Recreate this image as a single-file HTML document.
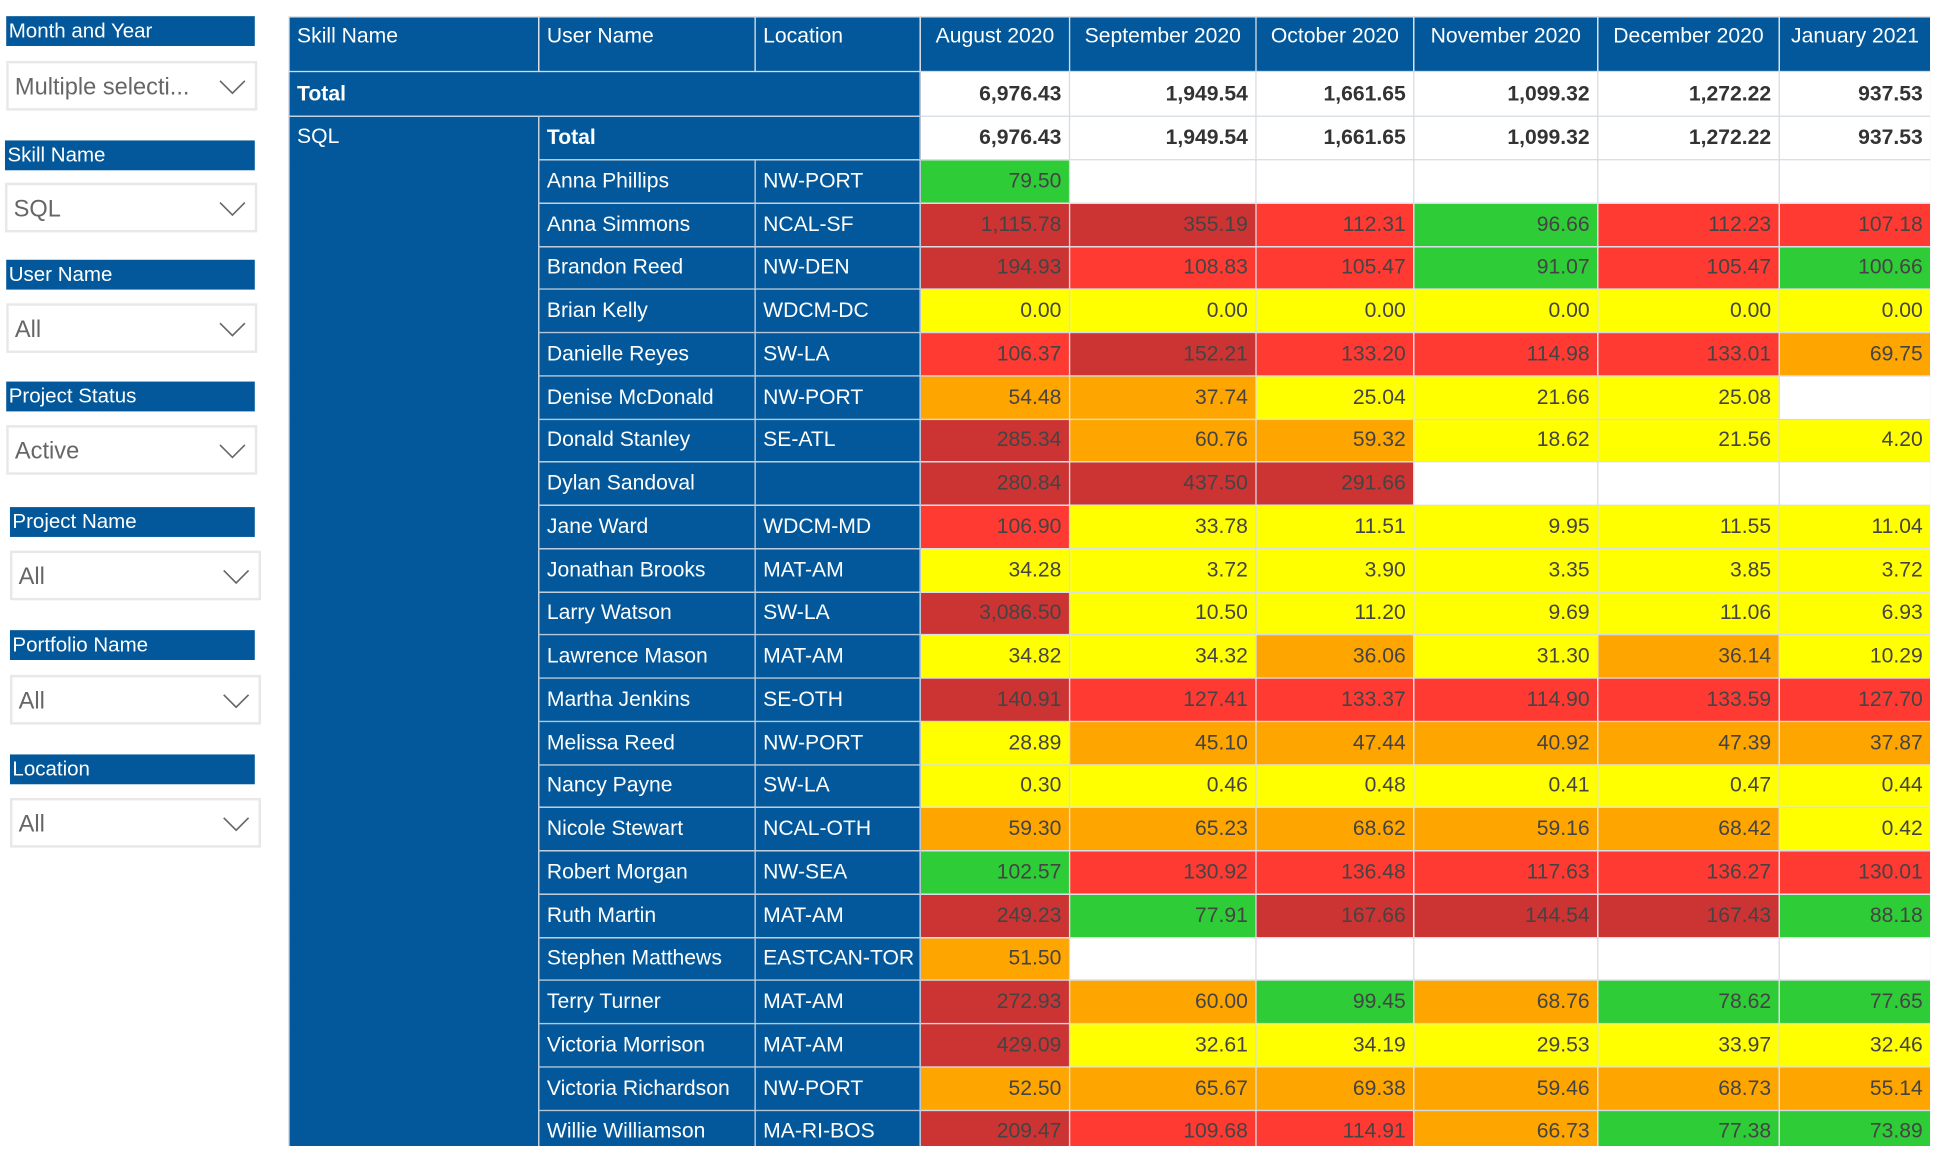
<!DOCTYPE html>
<html><head><meta charset="utf-8"><style>
*{margin:0;padding:0;box-sizing:border-box}
html,body{width:1939px;height:1161px;overflow:hidden;background:#fff}
#w{position:absolute;left:0;top:0;width:1560px;height:934px;transform:scale(1.2429);transform-origin:0 0;font-family:"Liberation Sans",sans-serif}
.sh{position:absolute;background:#02589a;color:#fff;font-size:16.5px;line-height:24px;padding-left:2px;height:24px;white-space:nowrap;overflow:hidden}
.dd{position:absolute;background:#fff;border:2px solid #e8e8e8;color:#666;font-size:19px;line-height:40px;padding-left:5px;height:40px}
.dd svg{position:absolute;right:7px;top:13px}
#t{position:absolute;left:232px;top:13px;width:1321px;height:909px;overflow:hidden}
table{border-collapse:collapse;table-layout:fixed;width:1321px;font-size:17px}
td{border:1px solid #d6dbe2;white-space:nowrap;overflow:hidden;padding:0 6px;color:#444;text-align:right}
td.b{background:#02589a;color:#fff;text-align:left;border-color:#b9c6d6}
tr.h td{height:44px;background:#02589a;color:#fff;text-align:center;padding:5px 3px 0;vertical-align:top}
tr.h td.l{text-align:left;padding-left:6px}
tr.t1 td{height:36px}
tr.t2 td{height:35px}
tr.t1 td,tr.t2 td{font-weight:bold;color:#333}
tr.r td{height:34.75px}
td.b{vertical-align:middle}
td.sql{vertical-align:top;padding-top:6px}
.D{background:#cc3333}.R{background:#ff3a33}.G{background:#2ecc37}.Y{background:#ffff00}.O{background:#ffa500}
</style></head><body><div id="w">
<div class="sh" style="left:5px;top:13px;width:200px">Month and Year</div>
<div class="dd" style="left:5px;top:49px;width:202px">Multiple selecti...<svg width="22" height="12"><polyline points="1,1 11,11 21,1" fill="none" stroke="#666" stroke-width="1.3"/></svg></div>
<div class="sh" style="left:4px;top:113px;width:201px">Skill Name</div>
<div class="dd" style="left:4px;top:147px;width:203px">SQL<svg width="22" height="12"><polyline points="1,1 11,11 21,1" fill="none" stroke="#666" stroke-width="1.3"/></svg></div>
<div class="sh" style="left:5px;top:209px;width:200px">User Name</div>
<div class="dd" style="left:5px;top:244px;width:202px">All<svg width="22" height="12"><polyline points="1,1 11,11 21,1" fill="none" stroke="#666" stroke-width="1.3"/></svg></div>
<div class="sh" style="left:5px;top:307px;width:200px">Project Status</div>
<div class="dd" style="left:5px;top:342px;width:202px">Active<svg width="22" height="12"><polyline points="1,1 11,11 21,1" fill="none" stroke="#666" stroke-width="1.3"/></svg></div>
<div class="sh" style="left:8px;top:408px;width:197px">Project Name</div>
<div class="dd" style="left:8px;top:443px;width:202px">All<svg width="22" height="12"><polyline points="1,1 11,11 21,1" fill="none" stroke="#666" stroke-width="1.3"/></svg></div>
<div class="sh" style="left:8px;top:507px;width:197px">Portfolio Name</div>
<div class="dd" style="left:8px;top:543px;width:202px">All<svg width="22" height="12"><polyline points="1,1 11,11 21,1" fill="none" stroke="#666" stroke-width="1.3"/></svg></div>
<div class="sh" style="left:8px;top:607px;width:197px">Location</div>
<div class="dd" style="left:8px;top:642px;width:202px">All<svg width="22" height="12"><polyline points="1,1 11,11 21,1" fill="none" stroke="#666" stroke-width="1.3"/></svg></div>
<div id="t"><table>
<colgroup><col style="width:201px"><col style="width:174px"><col style="width:133px"><col style="width:120px"><col style="width:150px"><col style="width:127px"><col style="width:148px"><col style="width:146px"><col style="width:122px"></colgroup>
<tr class="h"><td class="l">Skill Name</td><td class="l">User Name</td><td class="l">Location</td><td>August 2020</td><td>September 2020</td><td>October 2020</td><td>November 2020</td><td>December 2020</td><td>January 2021</td></tr>
<tr class="t1"><td class="b" colspan="3" style="font-weight:bold;color:#fff">Total</td><td>6,976.43</td><td>1,949.54</td><td>1,661.65</td><td>1,099.32</td><td>1,272.22</td><td>937.53</td></tr>
<tr class="t2"><td class="b sql" rowspan="24" style="font-weight:normal;color:#fff">SQL</td><td class="b" colspan="2" style="color:#fff">Total</td><td>6,976.43</td><td>1,949.54</td><td>1,661.65</td><td>1,099.32</td><td>1,272.22</td><td>937.53</td></tr>
<tr class="r"><td class="b">Anna Phillips</td><td class="b">NW-PORT</td><td class="G">79.50</td><td></td><td></td><td></td><td></td><td></td></tr>
<tr class="r"><td class="b">Anna Simmons</td><td class="b">NCAL-SF</td><td class="D">1,115.78</td><td class="D">355.19</td><td class="R">112.31</td><td class="G">96.66</td><td class="R">112.23</td><td class="R">107.18</td></tr>
<tr class="r"><td class="b">Brandon Reed</td><td class="b">NW-DEN</td><td class="D">194.93</td><td class="R">108.83</td><td class="R">105.47</td><td class="G">91.07</td><td class="R">105.47</td><td class="G">100.66</td></tr>
<tr class="r"><td class="b">Brian Kelly</td><td class="b">WDCM-DC</td><td class="Y">0.00</td><td class="Y">0.00</td><td class="Y">0.00</td><td class="Y">0.00</td><td class="Y">0.00</td><td class="Y">0.00</td></tr>
<tr class="r"><td class="b">Danielle Reyes</td><td class="b">SW-LA</td><td class="R">106.37</td><td class="D">152.21</td><td class="R">133.20</td><td class="R">114.98</td><td class="R">133.01</td><td class="O">69.75</td></tr>
<tr class="r"><td class="b">Denise McDonald</td><td class="b">NW-PORT</td><td class="O">54.48</td><td class="O">37.74</td><td class="Y">25.04</td><td class="Y">21.66</td><td class="Y">25.08</td><td></td></tr>
<tr class="r"><td class="b">Donald Stanley</td><td class="b">SE-ATL</td><td class="D">285.34</td><td class="O">60.76</td><td class="O">59.32</td><td class="Y">18.62</td><td class="Y">21.56</td><td class="Y">4.20</td></tr>
<tr class="r"><td class="b">Dylan Sandoval</td><td class="b"></td><td class="D">280.84</td><td class="D">437.50</td><td class="D">291.66</td><td></td><td></td><td></td></tr>
<tr class="r"><td class="b">Jane Ward</td><td class="b">WDCM-MD</td><td class="R">106.90</td><td class="Y">33.78</td><td class="Y">11.51</td><td class="Y">9.95</td><td class="Y">11.55</td><td class="Y">11.04</td></tr>
<tr class="r"><td class="b">Jonathan Brooks</td><td class="b">MAT-AM</td><td class="Y">34.28</td><td class="Y">3.72</td><td class="Y">3.90</td><td class="Y">3.35</td><td class="Y">3.85</td><td class="Y">3.72</td></tr>
<tr class="r"><td class="b">Larry Watson</td><td class="b">SW-LA</td><td class="D">3,086.50</td><td class="Y">10.50</td><td class="Y">11.20</td><td class="Y">9.69</td><td class="Y">11.06</td><td class="Y">6.93</td></tr>
<tr class="r"><td class="b">Lawrence Mason</td><td class="b">MAT-AM</td><td class="Y">34.82</td><td class="Y">34.32</td><td class="O">36.06</td><td class="Y">31.30</td><td class="O">36.14</td><td class="Y">10.29</td></tr>
<tr class="r"><td class="b">Martha Jenkins</td><td class="b">SE-OTH</td><td class="D">140.91</td><td class="R">127.41</td><td class="R">133.37</td><td class="R">114.90</td><td class="R">133.59</td><td class="R">127.70</td></tr>
<tr class="r"><td class="b">Melissa Reed</td><td class="b">NW-PORT</td><td class="Y">28.89</td><td class="O">45.10</td><td class="O">47.44</td><td class="O">40.92</td><td class="O">47.39</td><td class="O">37.87</td></tr>
<tr class="r"><td class="b">Nancy Payne</td><td class="b">SW-LA</td><td class="Y">0.30</td><td class="Y">0.46</td><td class="Y">0.48</td><td class="Y">0.41</td><td class="Y">0.47</td><td class="Y">0.44</td></tr>
<tr class="r"><td class="b">Nicole Stewart</td><td class="b">NCAL-OTH</td><td class="O">59.30</td><td class="O">65.23</td><td class="O">68.62</td><td class="O">59.16</td><td class="O">68.42</td><td class="Y">0.42</td></tr>
<tr class="r"><td class="b">Robert Morgan</td><td class="b">NW-SEA</td><td class="G">102.57</td><td class="R">130.92</td><td class="R">136.48</td><td class="R">117.63</td><td class="R">136.27</td><td class="R">130.01</td></tr>
<tr class="r"><td class="b">Ruth Martin</td><td class="b">MAT-AM</td><td class="D">249.23</td><td class="G">77.91</td><td class="D">167.66</td><td class="D">144.54</td><td class="D">167.43</td><td class="G">88.18</td></tr>
<tr class="r"><td class="b">Stephen Matthews</td><td class="b">EASTCAN-TOR</td><td class="O">51.50</td><td></td><td></td><td></td><td></td><td></td></tr>
<tr class="r"><td class="b">Terry Turner</td><td class="b">MAT-AM</td><td class="D">272.93</td><td class="O">60.00</td><td class="G">99.45</td><td class="O">68.76</td><td class="G">78.62</td><td class="G">77.65</td></tr>
<tr class="r"><td class="b">Victoria Morrison</td><td class="b">MAT-AM</td><td class="D">429.09</td><td class="Y">32.61</td><td class="Y">34.19</td><td class="Y">29.53</td><td class="Y">33.97</td><td class="Y">32.46</td></tr>
<tr class="r"><td class="b">Victoria Richardson</td><td class="b">NW-PORT</td><td class="O">52.50</td><td class="O">65.67</td><td class="O">69.38</td><td class="O">59.46</td><td class="O">68.73</td><td class="O">55.14</td></tr>
<tr class="r"><td class="b">Willie Williamson</td><td class="b">MA-RI-BOS</td><td class="D">209.47</td><td class="R">109.68</td><td class="R">114.91</td><td class="O">66.73</td><td class="G">77.38</td><td class="G">73.89</td></tr>
</table></div>
</div></body></html>
